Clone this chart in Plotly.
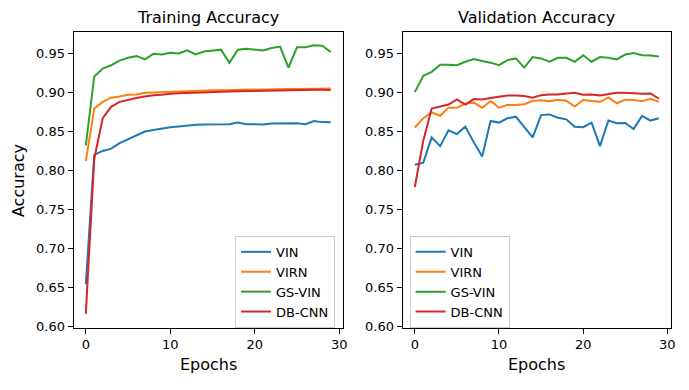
import plotly.graph_objects as go

epochs = list(range(30))

train_vin = [0.654, 0.820, 0.825, 0.828, 0.835, 0.840, 0.846, 0.850, 0.852, 0.854,
             0.8555, 0.8565, 0.8577, 0.8585, 0.859, 0.859, 0.8594, 0.8594, 0.8614, 0.8594,
             0.8594, 0.859, 0.8602, 0.8606, 0.8606, 0.8606, 0.8594, 0.8635, 0.862, 0.8618]
train_virn = [0.812, 0.8795, 0.888, 0.8933, 0.895, 0.897, 0.8975, 0.8996, 0.900, 0.9005,
              0.9013, 0.9015, 0.902, 0.9022, 0.9025, 0.903, 0.903, 0.9033, 0.9035, 0.9038,
              0.904, 0.904, 0.9042, 0.9043, 0.9044, 0.9045, 0.9046, 0.9047, 0.9048, 0.905]
train_gsvin = [0.832, 0.9206, 0.9307, 0.935, 0.941, 0.9445, 0.9467, 0.9425, 0.9496, 0.9488,
               0.951, 0.950, 0.954, 0.9488, 0.9525, 0.954, 0.955, 0.938, 0.955, 0.956,
               0.955, 0.954, 0.957, 0.959, 0.932, 0.958, 0.958, 0.9605, 0.960, 0.952]
train_dbcnn = [0.616, 0.815, 0.867, 0.8816, 0.888, 0.891, 0.893, 0.895, 0.8966, 0.897,
               0.8985, 0.899, 0.8995, 0.900, 0.9002, 0.9005, 0.901, 0.9012, 0.9015, 0.9018,
               0.902, 0.902, 0.9022, 0.9025, 0.9028, 0.903, 0.9032, 0.9034, 0.9034, 0.9032]

val_vin = [0.8073, 0.810, 0.8425, 0.8312, 0.8514, 0.8467, 0.8564, 0.836, 0.818, 0.8635,
           0.8614, 0.8669, 0.869, 0.855, 0.8425, 0.871, 0.8719, 0.8677, 0.8656, 0.856,
           0.8555, 0.8614, 0.8312, 0.864, 0.8606, 0.861, 0.853, 0.870, 0.864, 0.8669]
val_virn = [0.8551, 0.8669, 0.8744, 0.8702, 0.8803, 0.8803, 0.8858, 0.887, 0.8805, 0.8892,
            0.8805, 0.8841, 0.8841, 0.885, 0.889, 0.890, 0.8888, 0.8908, 0.8895, 0.882,
            0.8904, 0.889, 0.888, 0.8937, 0.8862, 0.8908, 0.8904, 0.8887, 0.892, 0.888]
val_gsvin = [0.9005, 0.9214, 0.9265, 0.9357, 0.9355, 0.935, 0.9395, 0.9428, 0.9403, 0.9383,
             0.935, 0.9416, 0.9437, 0.932, 0.9454, 0.9437, 0.9395, 0.9445, 0.9445, 0.9395,
             0.9479, 0.9395, 0.9454, 0.9445, 0.9425, 0.9487, 0.9508, 0.9479, 0.9475, 0.9462]
val_dbcnn = [0.7787, 0.838, 0.8795, 0.8816, 0.8845, 0.8912, 0.8845, 0.8916, 0.891, 0.893,
             0.895, 0.8963, 0.896, 0.8955, 0.8933, 0.8966, 0.8975, 0.8975, 0.8988, 0.8996,
             0.897, 0.8975, 0.8963, 0.8975, 0.8996, 0.8996, 0.8988, 0.8985, 0.8988, 0.892]

names = ['VIN', 'VIRN', 'GS-VIN', 'DB-CNN']
colors = ['#1f77b4', '#ff7f0e', '#2ca02c', '#d62728']
yticks = [0.60, 0.65, 0.70, 0.75, 0.80, 0.85, 0.90, 0.95]

W, H = 689, 390
FONT = 'DejaVu Sans'

fig = go.Figure()

for name, col, ys in zip(names, colors, [train_vin, train_virn, train_gsvin, train_dbcnn]):
    fig.add_trace(go.Scatter(x=epochs, y=ys, mode='lines', name=name,
                             line=dict(color=col, width=2), xaxis='x', yaxis='y',
                             legend='legend'))
for name, col, ys in zip(names, colors, [val_vin, val_virn, val_gsvin, val_dbcnn]):
    fig.add_trace(go.Scatter(x=epochs, y=ys, mode='lines', name=name,
                             line=dict(color=col, width=2), xaxis='x2', yaxis='y2',
                             legend='legend2'))

ydom = [1 - 333 / H, 1 - 33 / H]
ax_common = dict(showline=True, linecolor='black', linewidth=1, mirror=True,
                 showgrid=False, zeroline=False, ticks='outside', ticklen=5,
                 tickcolor='black', tickfont=dict(size=13, color='black'))

fig.update_layout(
    width=W, height=H,
    margin=dict(l=0, r=0, t=0, b=0),
    paper_bgcolor='white', plot_bgcolor='white',
    font=dict(family=FONT, color='black'),
    xaxis=dict(domain=[74 / W, 345 / W], range=[-1.45, 30.45],
               tickvals=[0, 10, 20, 30], anchor='y', **ax_common),
    yaxis=dict(domain=ydom, range=[0.598, 0.977], tickvals=yticks,
               tickformat='.2f', anchor='x', **ax_common),
    xaxis2=dict(domain=[405 / W, 675 / W], range=[-1.45, 30.45],
                tickvals=[0, 10, 20, 30], anchor='y2', **ax_common),
    yaxis2=dict(domain=ydom, range=[0.598, 0.977], tickvals=yticks,
                tickformat='.2f', anchor='x2', **ax_common),
    legend=dict(x=337 / W, y=1 - 333 / H, xanchor='right', yanchor='bottom',
                bgcolor='rgba(255,255,255,0.8)', bordercolor='#cccccc', borderwidth=1,
                font=dict(size=13), tracegroupgap=0),
    legend2=dict(x=412 / W, y=1 - 333 / H, xanchor='left', yanchor='bottom',
                 bgcolor='rgba(255,255,255,0.8)', bordercolor='#cccccc', borderwidth=1,
                 font=dict(size=13), tracegroupgap=0),
)

annots = [
    dict(text='Training Accuracy', x=(74 + 345) / 2 / W, y=1 - 18 / H, font=dict(size=16)),
    dict(text='Validation Accuracy', x=(405 + 675) / 2 / W, y=1 - 18 / H, font=dict(size=16)),
    dict(text='Epochs', x=(74 + 345) / 2 / W, y=1 - 370 / H, font=dict(size=16)),
    dict(text='Epochs', x=(405 + 675) / 2 / W, y=1 - 370 / H, font=dict(size=16)),
    dict(text='Accuracy', x=18 / W, y=1 - 183 / H, font=dict(size=16), textangle=-90),
]
for a in annots:
    fig.add_annotation(xref='paper', yref='paper', showarrow=False,
                       xanchor='center', yanchor='middle', **a)

# the page body has a default 8px margin; drop it so the figure sits at the window origin
fig.write_html("out.html", config={'displayModeBar': False},
               post_script="document.body.style.margin='0';")
